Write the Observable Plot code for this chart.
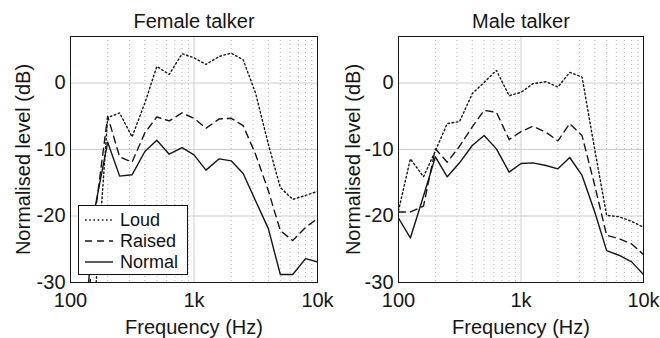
<!DOCTYPE html>
<html>
<head>
<meta charset="utf-8">
<script src="https://cdn.jsdelivr.net/npm/d3@7"></script>
<script src="https://cdn.jsdelivr.net/npm/@observablehq/plot@0.6"></script>
<style>
  html, body { margin: 0; padding: 0; background: #fff; }
  #wrap { position: relative; width: 660px; height: 338px; overflow: hidden; background: #fff; font-family: "Liberation Sans", Arial, sans-serif; }
  #wrap > svg { position: absolute; top: 0; }
  .legend { position: absolute; left: 78px; top: 205px; width: 110px; height: 70px; border: 1px solid #111; background: #fff; box-sizing: border-box; }
  .legend .row { position: absolute; left: 0; height: 22px; display: flex; align-items: center; font-size: 18px; color: #111; }
  .legend svg { margin-left: 6px; margin-right: 7px; }
</style>
</head>
<body>
<div id="wrap"></div>
<script>
// ---- data ----
const series = ["Loud", "Raised", "Normal"];
const femaleFreqs = [125, 160, 200, 250, 315, 400, 500, 630, 800, 1000, 1250, 1600, 2000, 2500, 3150, 4000, 5000, 6300, 8000, 10000];
const femaleLoud   = [-45, -31, -5.2, -4.5, -8.1, -3.0, 2.5, 1.3, 4.4, 3.8, 2.8, 4.0, 4.5, 3.5, -1.5, -9.2, -15.7, -17.5, -16.9, -16.3];
const femaleRaised = [-45, -19, -5.0, -11.1, -11.9, -7.5, -5.1, -5.7, -4.5, -5.3, -6.8, -5.4, -5.3, -6.4, -10.7, -16.2, -22.2, -23.7, -21.7, -20.4];
const femaleNormal = [-40, -18.2, -8.9, -14.0, -13.8, -10.3, -8.6, -10.7, -9.7, -10.8, -13.1, -11.4, -11.7, -13.6, -17.7, -21.9, -28.8, -28.8, -26.4, -26.9];

const maleFreqs = [100, 125, 160, 200, 250, 315, 400, 500, 630, 800, 1000, 1250, 1600, 2000, 2500, 3150, 4000, 5000, 6300, 8000, 10000];
const maleLoud   = [-19.2, -11.4, -14.1, -10.2, -6.1, -5.8, -1.6, 0.1, 1.9, -1.9, -1.4, -0.1, 0.2, -0.6, 1.6, 0.9, -10.0, -19.9, -20.1, -20.8, -21.7];
const maleRaised = [-19.4, -19.4, -18.5, -9.9, -11.9, -9.5, -6.6, -4.1, -4.4, -8.5, -7.3, -6.5, -7.4, -8.7, -6.1, -7.9, -15.4, -22.9, -23.4, -24.2, -25.8];
const maleNormal = [-20.3, -23.3, -17.0, -11.1, -14.1, -12.0, -9.4, -7.9, -9.9, -13.4, -12.1, -12.0, -12.4, -12.9, -11.2, -13.9, -19.4, -25.2, -25.9, -26.9, -28.8];

const xTicks = [100, 1000, 10000];
const xTickLabels = ["100", "1k", "10k"];
const xMinor = [200, 300, 400, 500, 600, 700, 800, 900, 2000, 3000, 4000, 5000, 6000, 7000, 8000, 9000];
const yTicks = [-30, -20, -10, 0];
const yDomain = [-30, 7];
const xDomain = [100, 10000];
const titles = ["Female talker", "Male talker"];
const xLabel = "Frequency (Hz)";
const yLabel = "Normalised level (dB)";

// ---- styles ----
const dash = {Loud: "1.6,2.6", Raised: "7,5", Normal: null};
const ink = "#161616";

function rows(freqs, loud, raised, normal) {
  const out = [];
  const vals = {Loud: loud, Raised: raised, Normal: normal};
  for (const s of series) freqs.forEach((f, i) => out.push({series: s, f, v: vals[s][i]}));
  return out;
}

function panel(title, data, ml, mr, yLabelDx) {
  const lines = series.map(s => Plot.line(data.filter(d => d.series === s), {
    x: "f", y: "v", stroke: ink, strokeWidth: 1.4,
    strokeDasharray: dash[s] || undefined, clip: true
  }));
  return Plot.plot({
    width: 330, height: 338,
    marginLeft: ml, marginRight: mr, marginTop: 36, marginBottom: 56,
    style: {fontFamily: "'Liberation Sans', Arial, sans-serif", fontSize: "20px", color: ink, background: "transparent", overflow: "visible"},
    x: {type: "log", domain: xDomain},
    y: {domain: yDomain},
    marks: [
      Plot.ruleX(xMinor, {stroke: "#b0b0b0", strokeDasharray: "1,3", strokeWidth: 1}),
      Plot.ruleX(xTicks, {stroke: "#cfcfcf", strokeWidth: 1}),
      Plot.ruleY(yTicks, {stroke: "#cfcfcf", strokeWidth: 1}),
      ...lines,
      Plot.frame({stroke: ink, strokeWidth: 1}),
      Plot.axisX(xTicks, {tickSize: 0, tickPadding: 10, fontSize: 20, tickFormat: (d) => xTickLabels[xTicks.indexOf(d)], label: null}),
      Plot.axisY(yTicks, {tickSize: 0, tickPadding: 5, fontSize: 20, tickFormat: d => String(d), label: null, dy: 0}),
      Plot.text([title], {frameAnchor: "top", dy: -15, fontSize: 20, fill: ink, lineAnchor: "middle"}),
      Plot.text([xLabel], {frameAnchor: "bottom", dy: 45, fontSize: 20, fill: ink, lineAnchor: "middle"}),
      Plot.text([yLabel], {frameAnchor: "left", dx: yLabelDx, rotate: -90, fontSize: 20, fill: ink, textAnchor: "middle", lineAnchor: "middle"})
    ]
  });
}

const wrap = document.getElementById("wrap");
const left = panel(titles[0], rows(femaleFreqs, femaleLoud, femaleRaised, femaleNormal), 70, 13, -47);
left.style.left = "0px";
wrap.appendChild(left);
const right = panel(titles[1], rows(maleFreqs, maleLoud, maleRaised, maleNormal), 68, 17, -45);
right.style.left = "330px";
wrap.appendChild(right);

// legend
const leg = document.createElement("div");
leg.className = "legend";
series.forEach((s, i) => {
  const r = document.createElement("div");
  r.className = "row";
  r.style.top = (3 + i * 21) + "px";
  r.innerHTML = `<svg width="28" height="10"><line x1="0" x2="28" y1="5" y2="5" stroke="${ink}" stroke-width="1.4" ${dash[s] ? `stroke-dasharray="${dash[s]}"` : ""}/></svg><span>${s}</span>`;
  leg.appendChild(r);
});
wrap.appendChild(leg);
</script>
</body>
</html>
